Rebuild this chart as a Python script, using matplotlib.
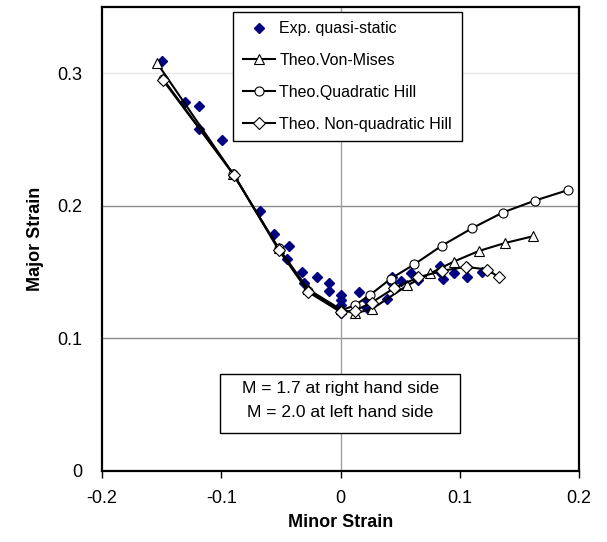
"""Forming limit curve: experimental points vs theoretical yield criteria"""

import matplotlib
matplotlib.use("Agg")
import matplotlib.pyplot as plt
from matplotlib.patches import Rectangle

plt.rcParams['font.family'] = ['Liberation Sans', 'DejaVu Sans']

# Experimental quasi-static points
exp_minor = [-0.150, -0.130, -0.119, -0.119, -0.099, -0.0675, -0.056, -0.043, -0.045, -0.032,
             -0.031, -0.020, -0.010, -0.010, 0.0, 0.0, 0.0, 0.0, 0.0, 0.0155, 0.022, 0.022,
             0.043, 0.043, 0.039, 0.051, 0.059, 0.065, 0.083, 0.083, 0.086, 0.095, 0.106,
             0.106, 0.119]
exp_major = [0.309, 0.278, 0.275, 0.258, 0.250, 0.196, 0.179, 0.170, 0.160, 0.150,
             0.142, 0.146, 0.142, 0.136, 0.133, 0.129, 0.125, 0.121, 0.119, 0.135, 0.129, 0.123,
             0.146, 0.142, 0.130, 0.143, 0.149, 0.144, 0.155, 0.150, 0.145, 0.149, 0.154,
             0.146, 0.150]

# Theoretical curves
vm_minor = [-0.154, -0.090, -0.052, -0.027, 0.0, 0.012, 0.026, 0.056, 0.075, 0.095, 0.116, 0.138, 0.161]
vm_major = [0.308, 0.224, 0.168, 0.137, 0.122, 0.119, 0.122, 0.140, 0.149, 0.158, 0.166, 0.172, 0.177]

qh_minor = [-0.149, -0.090, -0.052, -0.027, 0.0, 0.012, 0.025, 0.042, 0.062, 0.085, 0.110, 0.136, 0.163, 0.191]
qh_major = [0.296, 0.224, 0.168, 0.136, 0.121, 0.125, 0.133, 0.145, 0.156, 0.170, 0.183, 0.195, 0.204, 0.212]

nq_minor = [-0.149, -0.089, -0.052, -0.027, 0.0, 0.012, 0.026, 0.045, 0.065, 0.085, 0.105, 0.123, 0.133]
nq_major = [0.295, 0.223, 0.167, 0.135, 0.120, 0.121, 0.127, 0.138, 0.146, 0.151, 0.154, 0.152, 0.146]

x_ticks = [-0.2, -0.1, 0, 0.1, 0.2]
y_ticks = [0, 0.1, 0.2, 0.3]

fig = plt.figure(figsize=(6.07, 5.42), dpi=100)
ax = fig.add_axes([0.168, 0.131, 0.786, 0.856])

# grid lines (Excel style: horizontal majors, vertical at 0)
ax.axhline(0.1, color="#8c8c8c", linewidth=1, zorder=0)
ax.axhline(0.2, color="#8c8c8c", linewidth=1, zorder=0)
ax.axhline(0.3, color="#e6e6e6", linewidth=1, zorder=0)
ax.axvline(0, color="#a0a0a0", linewidth=1, zorder=0)

ax.plot(exp_minor, exp_major, linestyle="none", marker="D", markersize=5.5,
        color="#000080", label="Exp. quasi-static", zorder=3)
ax.plot(vm_minor, vm_major, color="black", linewidth=1.5, marker="^", markersize=7,
        markerfacecolor="white", markeredgecolor="black", markeredgewidth=0.8,
        label="Theo.Von-Mises", zorder=4)
ax.plot(qh_minor, qh_major, color="black", linewidth=1.5, marker="o", markersize=6.5,
        markerfacecolor="white", markeredgecolor="black", markeredgewidth=0.8,
        label="Theo.Quadratic Hill", zorder=4)
ax.plot(nq_minor, nq_major, color="black", linewidth=1.5, marker="D", markersize=6,
        markerfacecolor="white", markeredgecolor="black", markeredgewidth=0.8,
        label="Theo. Non-quadratic Hill", zorder=4)

ax.set_xlim(-0.2, 0.2)
ax.set_ylim(0, 0.35)
ax.set_xticks(x_ticks)
ax.set_xticklabels(["-0.2", "-0.1", "0", "0.1", "0.2"])
ax.set_yticks(y_ticks)
ax.set_yticklabels(["0", "0.1", "0.2", "0.3"])
ax.tick_params(axis='x', direction='out', length=5, width=1, labelsize=13, pad=9)
ax.tick_params(axis='y', length=0, labelsize=13, pad=14)
for sp in ax.spines.values():
    sp.set_linewidth(1.6)
    sp.set_color("black")

ax.set_xlabel("Minor Strain", fontsize=13, fontweight="bold", labelpad=5)
ax.set_ylabel("Major Strain", fontsize=13, fontweight="bold", labelpad=10)

leg = ax.legend(loc="upper left", bbox_to_anchor=(0.275, 0.99), fontsize=11.5,
                frameon=True, fancybox=False, edgecolor="black", framealpha=1,
                borderpad=0.6, labelspacing=1.05, handlelength=2.0, handletextpad=0.3,
                borderaxespad=0)
leg.get_frame().set_linewidth(1)

# annotation box
ax.add_patch(Rectangle((0.248, 0.082), 0.502, 0.127, transform=ax.transAxes,
                       facecolor="white", edgecolor="black", linewidth=1, zorder=5))
ax.text(0.5, 0.177, "M = 1.7 at right hand side", transform=ax.transAxes,
        ha="center", va="center", fontsize=12.5, zorder=6)
ax.text(0.5, 0.127, "M = 2.0 at left hand side", transform=ax.transAxes,
        ha="center", va="center", fontsize=12.5, zorder=6)

plt.savefig("out.png", dpi=100)
plt.close()
